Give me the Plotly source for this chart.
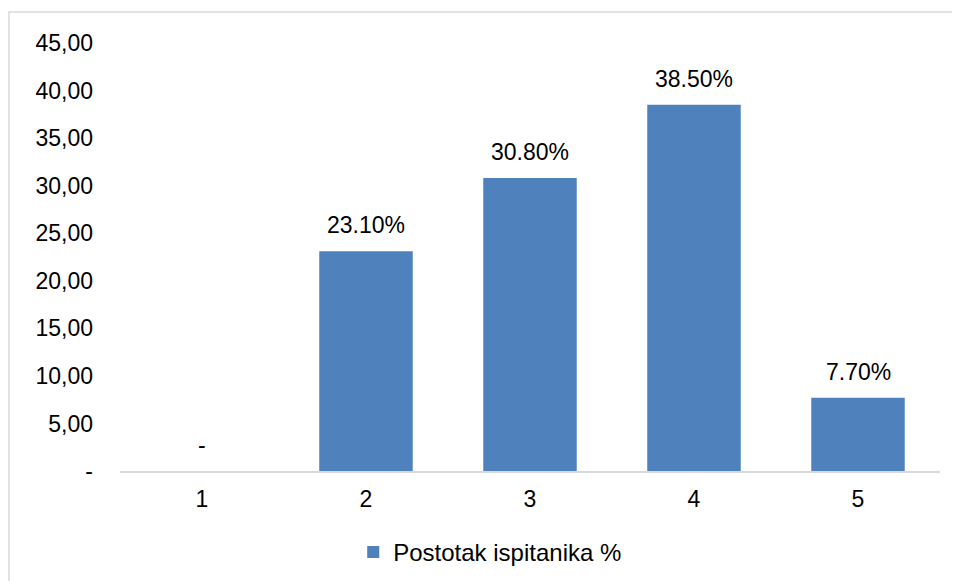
import plotly.graph_objects as go

categories = [1, 2, 3, 4, 5]
values = [0.0, 23.1, 30.8, 38.5, 7.7]
bar_labels = ["-", "23.10%", "30.80%", "38.50%", "7.70%"]
x_ticktext = ["1", "2", "3", "4", "5"]
y_tickvals = [0, 5, 10, 15, 20, 25, 30, 35, 40, 45]
y_ticktext = ["-", "5,00", "10,00", "15,00", "20,00", "25,00", "30,00", "35,00", "40,00", "45,00"]
series_name = "Postotak ispitanika %"

FONT = "Liberation Sans, Arial, sans-serif"
BAR_COLOR = "#4F81BD"

fig = go.Figure()
fig.add_trace(go.Bar(
    x=categories, y=values, name=series_name,
    marker=dict(color=BAR_COLOR, line=dict(width=0)),
    showlegend=True,
))

for c, v, t in zip(categories, values, bar_labels):
    fig.add_annotation(x=c, y=v, text=t, showarrow=False, xref="x", yref="y",
                       yanchor="bottom", yshift=11,
                       font=dict(family=FONT, size=23, color="#000000"))

fig.update_layout(
    width=960, height=581,
    margin=dict(l=112, r=28, t=35, b=118),
    paper_bgcolor="white", plot_bgcolor="white",
    font=dict(family=FONT, size=23, color="#000000"),
    bargap=0.43,
    showlegend=True,
    legend=dict(orientation="h", x=0.4515, y=-0.190, xanchor="center", yanchor="middle",
                font=dict(family=FONT, size=24, color="#000000"),
                bgcolor="rgba(0,0,0,0)"),
    xaxis=dict(range=[0.5, 5.5], tickvals=categories, ticktext=x_ticktext,
               showgrid=False, zeroline=False,
               showline=True, linecolor="#d9d9d9", linewidth=1.5,
               ticks="", ticklabelstandoff=7,
               tickfont=dict(family=FONT, size=23, color="#000000")),
    yaxis=dict(range=[0, 45], tickvals=y_tickvals, ticktext=y_ticktext,
               showgrid=False, zeroline=False, showline=False, ticks="",
               ticklabelstandoff=26,
               tickfont=dict(family=FONT, size=23, color="#000000")),
    shapes=[dict(type="rect", xref="paper", yref="paper",
                 x0=-0.1354, x1=1.06, y0=-0.35, y1=1.0724,
                 line=dict(color="#d9d9d9", width=1.5), fillcolor="rgba(0,0,0,0)",
                 layer="below")],
)

fig.write_html("out.html")
